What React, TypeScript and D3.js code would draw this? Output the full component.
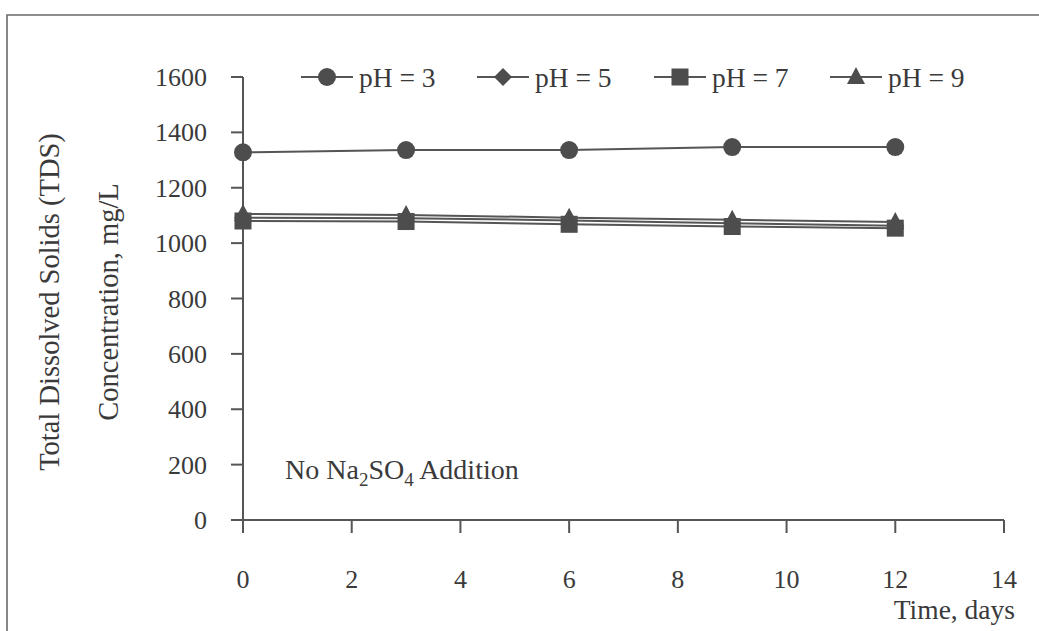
import React from "react";
import * as d3 from "d3";

// Sampling days and TDS readings (mg/L) for each initial pH
const days = [0, 3, 6, 9, 12];
const tdsPH3 = [1328, 1336, 1336, 1347, 1347];
const tdsPH5 = [1092, 1090, 1082, 1072, 1063];
const tdsPH7 = [1080, 1078, 1068, 1060, 1054];
const tdsPH9 = [1105, 1102, 1092, 1084, 1076];

const seriesNames = ["pH = 3", "pH = 5", "pH = 7", "pH = 9"];
const seriesShapes = ["circle", "diamond", "square", "triangle"];
const xTicks = [0, 2, 4, 6, 8, 10, 12, 14];
const yTicks = [0, 200, 400, 600, 800, 1000, 1200, 1400, 1600];

const W = 1039;
const H = 631;
const FONT = "'Liberation Serif', 'Times New Roman', serif";
const INK = "#3a3a3a";
const MARK = "#4d4d4d";

function Marker({ shape, x, y }: { shape: string; x: number; y: number }) {
  if (shape === "circle") return <circle cx={x} cy={y} r={9} fill={MARK} />;
  if (shape === "square")
    return <rect x={x - 8.5} y={y - 8.5} width={17} height={17} fill={MARK} />;
  if (shape === "diamond")
    return (
      <path d={`M${x},${y - 9}L${x + 9},${y}L${x},${y + 9}L${x - 9},${y}Z`} fill={MARK} />
    );
  return (
    <path d={`M${x},${y - 10}L${x + 9},${y + 7}L${x - 9},${y + 7}Z`} fill={MARK} />
  );
}

export default function App() {
  const x = d3.scaleLinear().domain([0, 14]).range([243, 1004]);
  const y = d3.scaleLinear().domain([0, 1600]).range([520, 77]);
  const series = [tdsPH3, tdsPH5, tdsPH7, tdsPH9];
  const line = d3
    .line<number>()
    .x((_, i) => x(days[i]))
    .y((v) => y(v));

  const legendX = [301, 477, 654, 830];

  return (
    <svg
      width={W}
      height={H}
      style={{ position: "absolute", left: 0, top: 0, background: "#fff" }}
      fontFamily={FONT}
    >
      {/* outer frame */}
      <path d={`M7,${H}V15H${W}`} fill="none" stroke="#6a6a6a" strokeWidth={1.6} />

      {/* y axis */}
      <line x1={x(0)} x2={x(0)} y1={y(1600)} y2={533} stroke="#555" strokeWidth={2} />
      {yTicks.map((t) => (
        <g key={"y" + t}>
          <line x1={231} x2={x(0)} y1={y(t)} y2={y(t)} stroke="#555" strokeWidth={2} />
          <text
            x={207}
            y={y(t)}
            dy="0.35em"
            textAnchor="end"
            fontSize={26}
            fill={INK}
          >
            {t}
          </text>
        </g>
      ))}

      {/* x axis */}
      <line x1={231} x2={x(14)} y1={y(0)} y2={y(0)} stroke="#555" strokeWidth={2} />
      {xTicks.map((t) => (
        <g key={"x" + t}>
          <line x1={x(t)} x2={x(t)} y1={y(0)} y2={533} stroke="#555" strokeWidth={2} />
          <text x={x(t)} y={588} textAnchor="middle" fontSize={26} fill={INK}>
            {t}
          </text>
        </g>
      ))}
      <text x={1015} y={619} textAnchor="end" fontSize={27.5} fill={INK}>
        Time, days
      </text>

      {/* y axis title */}
      <text
        transform="translate(49,302) rotate(-90)"
        textAnchor="middle"
        dy="0.35em"
        fontSize={28.5}
        fill={INK}
      >
        Total Dissolved Solids (TDS)
      </text>
      <text
        transform="translate(108,302) rotate(-90)"
        textAnchor="middle"
        dy="0.35em"
        fontSize={28.5}
        fill={INK}
      >
        Concentration, mg/L
      </text>

      {/* series */}
      {series.map((vals, si) => (
        <g key={"s" + si}>
          <path d={line(vals) || ""} fill="none" stroke="#555" strokeWidth={2} />
          {vals.map((v, i) => (
            <Marker key={i} shape={seriesShapes[si]} x={x(days[i])} y={y(v)} />
          ))}
        </g>
      ))}

      {/* legend */}
      {seriesNames.map((name, i) => (
        <g key={"l" + i}>
          <line
            x1={legendX[i]}
            x2={legendX[i] + 52}
            y1={77}
            y2={77}
            stroke="#555"
            strokeWidth={2}
          />
          <Marker shape={seriesShapes[i]} x={legendX[i] + 26} y={77} />
          <text x={legendX[i] + 58} y={77} dy="0.35em" fontSize={27.5} fill={INK}>
            {name}
          </text>
        </g>
      ))}

      {/* annotation */}
      <text x={285} y={479} fontSize={28} fill={INK}>
        No Na
        <tspan fontSize={19} dy={7}>2</tspan>
        <tspan dy={-7}>SO</tspan>
        <tspan fontSize={19} dy={7}>4</tspan>
        <tspan dy={-7}> Addition</tspan>
      </text>
    </svg>
  );
}
